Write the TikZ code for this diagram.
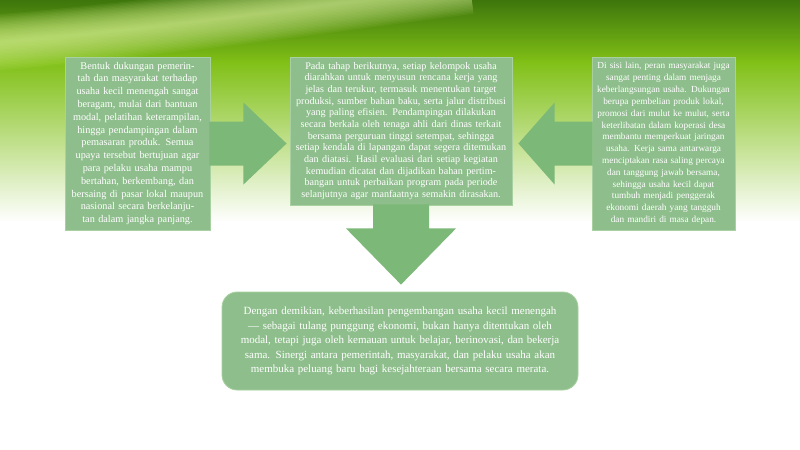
\documentclass[tikz,border=0pt]{standalone}
\usepackage{fontspec}
\setmainfont{Liberation Serif}
\usetikzlibrary{calc}
\definecolor{topdark}{RGB}{62,118,12}
\definecolor{lime}{RGB}{128,192,22}
\definecolor{midlime}{RGB}{190,230,115}
\definecolor{swooshcol}{RGB}{228,250,160}
\definecolor{boxgreen}{RGB}{142,190,140}
\definecolor{arrowgreen}{RGB}{124,184,120}
\definecolor{edgegreen}{RGB}{168,208,160}
\begin{document}
\begin{tikzpicture}[x=0.025cm,y=-0.025cm,
  txtbox/.style={fill=boxgreen,draw=edgegreen,line width=0.6pt,inner sep=2pt,
    align=center,text=white,font=\fontsize{7.3}{9.1}\selectfont},
  arrowshape/.style={fill=arrowgreen}]
\useasboundingbox (0,0) rectangle (800,449);
\fill[white](0,0) rectangle (800,449);
\shade[top color=topdark,bottom color=lime](0,0) rectangle (800,62);
\shade[top color=lime,middle color=midlime,bottom color=white](0,61) rectangle (800,222);
\foreach \w in {2,4,...,40}
  \draw[swooshcol,line width=\w pt,opacity=0.055](-20,44) .. controls (150,30) and (300,8) .. (470,-14);

\node[txtbox,minimum width=145*0.025cm,minimum height=173*0.025cm,text width=137*0.025cm] (left) at (137.5,143.5)
{Bentuk dukungan pemerintah dan masyarakat terhadap usaha kecil menengah sangat beragam, mulai dari bantuan modal, pelatihan keterampilan, hingga pendampingan dalam pemasaran produk. Semua upaya tersebut bertujuan agar para pelaku usaha mampu bertahan, berkembang, dan bersaing di pasar lokal maupun nasional secara berkelanjutan dalam jangka panjang.};
\node[txtbox,font=\fontsize{7.2}{8.3}\selectfont,minimum width=222*0.025cm,minimum height=148*0.025cm,text width=212*0.025cm] (center) at (401,131)
{Pada tahap berikutnya, setiap kelompok usaha diarahkan untuk menyusun rencana kerja yang jelas dan terukur, termasuk menentukan target produksi, sumber bahan baku, serta jalur distribusi yang paling efisien. Pendampingan dilakukan secara berkala oleh tenaga ahli dari dinas terkait bersama perguruan tinggi setempat, sehingga setiap kendala di lapangan dapat segera ditemukan dan diatasi. Hasil evaluasi dari setiap kegiatan kemudian dicatat dan dijadikan bahan pertimbangan untuk perbaikan program pada periode selanjutnya agar manfaatnya semakin dirasakan.};
\node[txtbox,font=\fontsize{6.6}{8.4}\selectfont,minimum width=143*0.025cm,minimum height=173*0.025cm,text width=133*0.025cm] (right) at (663.5,143.5)
{Di sisi lain, peran masyarakat juga sangat penting dalam menjaga keberlangsungan usaha. Dukungan berupa pembelian produk lokal, promosi dari mulut ke mulut, serta keterlibatan dalam koperasi desa membantu memperkuat jaringan usaha. Kerja sama antarwarga menciptakan rasa saling percaya dan tanggung jawab bersama, sehingga usaha kecil dapat tumbuh menjadi penggerak ekonomi daerah yang tangguh dan mandiri di masa depan.};
\node[txtbox,rounded corners=0.38cm,font=\fontsize{7.8}{10.3}\selectfont,minimum width=356*0.025cm,minimum height=98*0.025cm,text width=330*0.025cm] (bottom) at (400,341)
{Dengan demikian, keberhasilan pengembangan usaha kecil menengah --- sebagai tulang punggung ekonomi, bukan hanya ditentukan oleh modal, tetapi juga oleh kemauan untuk belajar, berinovasi, dan bekerja sama. Sinergi antara pemerintah, masyarakat, dan pelaku usaha akan membuka peluang baru bagi kesejahteraan bersama secara merata.};

\fill[arrowshape]($(left.east)+(-1,-22)$)--($(left.east)+(33,-22)$)--($(left.east)+(33,-41)$)
  --($(center.west)+(-3,12.5)$)--($(left.east)+(33,41)$)--($(left.east)+(33,22)$)--($(left.east)+(-1,22)$)--cycle;
\fill[arrowshape]($(right.west)+(1,-22)$)--($(right.west)+(-37,-22)$)--($(right.west)+(-37,-41)$)
  --($(center.east)+(6,12.5)$)--($(right.west)+(-37,41)$)--($(right.west)+(-37,22)$)--($(right.west)+(1,22)$)--cycle;
\fill[arrowshape]($(center.south)+(-28,-1)$)--($(center.south)+(28,-1)$)--($(center.south)+(28,23)$)
  --($(center.south)+(55,23)$)--($(bottom.north)+(1,-7)$)--($(center.south)+(-55,23)$)--($(center.south)+(-28,23)$)--cycle;
\end{tikzpicture}
\end{document}
